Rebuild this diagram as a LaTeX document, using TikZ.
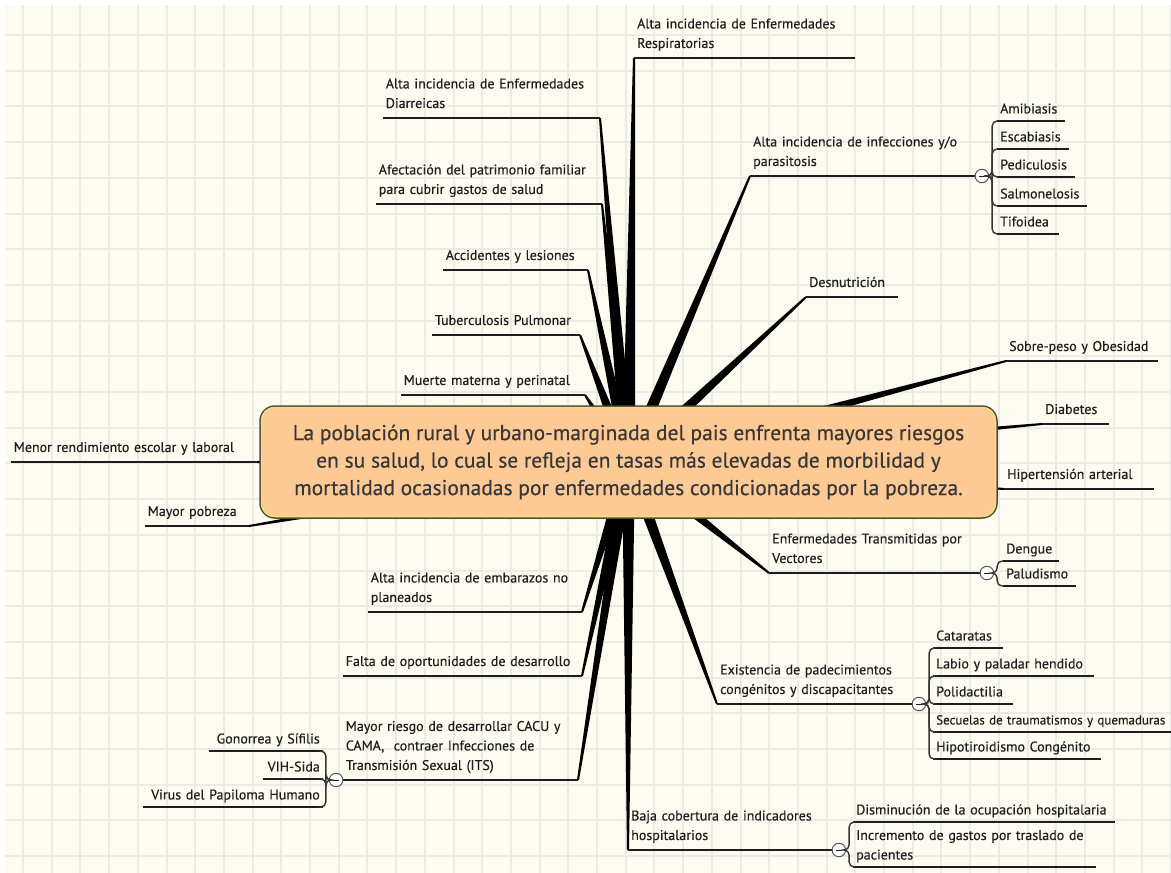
\documentclass[tikz,border=0pt]{standalone}
\usepackage{fontspec}
\setmainfont{PT Sans}
\newfontfamily\lblfont{PT Sans}[FakeBold=0.35]
\newfontfamily\corefont{PT Sans}[FakeBold=0.45]
\usetikzlibrary{calc}
\definecolor{paper}{HTML}{FDFBF0}
\definecolor{gridc}{HTML}{EBEBE6}
\definecolor{peach}{HTML}{FDCA96}
\definecolor{ink}{HTML}{1E1E1E}
\definecolor{boxline}{HTML}{4A4A3A}
\definecolor{glow}{HTML}{F0E26A}
\definecolor{coretext}{HTML}{383838}
\pgfdeclarelayer{paperl}
\pgfdeclarelayer{spk}
\pgfsetlayers{paperl,spk,main}
\newcommand{\spoke}[2]{\fill[black] ($(#1)!6.5pt!90:(#2)$) -- ($(#2)!1pt!-90:(#1)$) -- ($(#2)!1pt!90:(#1)$) -- ($(#1)!6.5pt!-90:(#2)$) -- cycle;}
\begin{document}
\begin{tikzpicture}[x=1pt,y=-1pt,
  lbl/.style={font=\lblfont\fontsize{14}{19.5}\selectfont, text=ink, inner xsep=3pt, inner ysep=4pt, align=left, execute at end node=\strut},
  R/.style={lbl, anchor=south west},
  L/.style={lbl, anchor=south east},
  subR/.style={R, inner ysep=1.5pt},
  subL/.style={L, inner ysep=1.5pt, align=right},
  uline/.style={draw=ink, line width=1.6pt},
  brk/.style={draw=ink!90, line width=1.4pt, rounded corners=5pt},
  tog/.style={circle, draw=ink!75, fill=white, line width=1pt, minimum size=13.5pt, inner sep=0pt,
    path picture={\draw[ink, line width=1pt] ([xshift=-3pt]path picture bounding box.center) -- ([xshift=3pt]path picture bounding box.center);}},
  core/.style={rounded corners=15pt, fill=peach, draw=boxline, line width=1.5pt, minimum width=737pt, minimum height=112pt, align=center, font=\corefont\fontsize{21.5}{27.5}\selectfont, text=coretext}
]
\useasboundingbox (0,0) rectangle (1171,873);
\begin{pgfonlayer}{paperl}
\fill[white] (0,0) rectangle (1171,873);
\fill[paper] (5,5) rectangle (1171,873);
\foreach \i in {0,...,40} \draw[gridc, line width=2pt] ({23+28.7*\i},5) -- ({23+28.7*\i},873);
\foreach \j in {0,...,23} \draw[gridc, line width=2pt] (5,{35+35.7*\j}) -- (1171,{35+35.7*\j});
\end{pgfonlayer}

% central topic
\node[core] (core) at (628.5,462) {La población rural y urbano-marginada del pais enfrenta mayores riesgos\\en su salud, lo cual se refleja en tasas más elevadas de morbilidad y\\mortalidad ocasionadas por enfermedades condicionadas por la pobreza.};
\draw[glow, line width=1.2pt, rounded corners=13pt] ([xshift=2.2pt,yshift=-2.2pt]core.north west) rectangle ([xshift=-2.2pt,yshift=2.2pt]core.south east);

% main labels
\node[R, text width=215pt] (resp) at (634,58) {Alta incidencia de Enfermedades\\Respiratorias};
\node[L, text width=211pt] (diar) at (600,118) {Alta incidencia de Enfermedades\\Diarreicas};
\node[L, text width=220pt] (afect) at (602,204) {Afectación del patrimonio familiar\\para cubrir gastos de salud};
\node[L, text width=139pt] (accid) at (588,270) {Accidentes y lesiones};
\node[L, text width=142pt] (tuber) at (580,335) {Tuberculosis Pulmonar};
\node[L, text width=178pt] (muerte) at (585,395) {Muerte materna y perinatal};
\node[L, text width=240pt] (menor) at (257,462) {Menor rendimiento escolar y laboral};
\node[L, text width=98pt] (pobreza) at (249,526) {Mayor pobreza};
\node[L, text width=208pt] (embar) at (582,612) {Alta incidencia de embarazos no\\planeados};
\node[L, text width=233pt] (falta) at (582,676) {Falta de oportunidades de desarrollo};
\node[L, text width=229pt] (riesgo) at (578,780) {Mayor riesgo de desarrollar CACU y\\CAMA,\ \ contraer Infecciones de\\Transmisión Sexual (ITS)};
\node[R, text width=198pt] (baja) at (628,850) {Baja cobertura de indicadores\\hospitalarios};
\node[R, text width=219pt] (infec) at (750,176) {Alta incidencia de infecciones y/o\\parasitosis};
\node[R, text width=86pt] (desnut) at (806,297) {Desnutrición};
\node[R, text width=146pt] (sobre) at (1006,361) {Sobre-peso y Obesidad};
\node[R, text width=61pt] (diab) at (1042,424) {Diabetes};
\node[R, text width=144pt] (hiper) at (1004,489) {Hipertensión arterial};
\node[R, text width=205pt] (enft) at (769,573) {Enfermedades Transmitidas por\\Vectores};
\node[R, text width=189pt] (exist) at (717,704) {Existencia de padecimientos\\congénitos y discapacitantes};

% sub labels
\node[subR, text width=62pt] (amib) at (997,121) {Amibiasis};
\node[subR, text width=66pt] (escab) at (997,149) {Escabiasis};
\node[subR, text width=72pt] (pedic) at (997,177) {Pediculosis};
\node[subR, text width=84pt] (salmo) at (997,206) {Salmonelosis};
\node[subR, text width=56pt] (tifo) at (997,234) {Tifoidea};
\node[subR, text width=50pt] (dengue) at (1003,561) {Dengue};
\node[subR, text width=67pt] (palud) at (1003,586) {Paludismo};
\node[subR, text width=64pt] (catar) at (933,648) {Cataratas};
\node[subR, text width=155pt] (labio) at (933,676) {Labio y paladar hendido};
\node[subR, text width=74pt] (polid) at (933,704) {Polidactilia};
\node[subR, text width=234pt, font=\lblfont\fontsize{13}{19.5}\selectfont] (secue) at (933,732) {Secuelas de traumatismos y quemaduras};
\node[subR, text width=162pt] (hipot) at (933,759) {Hipotiroidismo Congénito};
\node[subR, text width=256pt] (dismin) at (853,822) {Disminución de la ocupación hospitalaria};
\node[subR, text width=237pt] (incre) at (853,867) {Incremento de gastos por traslado de\\pacientes};
\node[subL, text width=108pt] (gono) at (323,751) {Gonorrea y Sífilis};
\node[subL, text width=54pt] (vih) at (323,779) {VIH-Sida};
\node[subL, text width=174pt] (virus) at (323,807) {Virus del Papiloma Humano};

% underlines
\foreach \n in {resp,diar,afect,accid,tuber,muerte,menor,pobreza,embar,falta,riesgo,baja,infec,desnut,sobre,diab,hiper,enft,exist,
  amib,escab,pedic,salmo,tifo,dengue,palud,catar,labio,polid,secue,hipot,dismin,incre,gono,vih,virus}
  \draw[uline] (\n.south west) -- (\n.south east);

% spokes
\begin{pgfonlayer}{spk}
\spoke{core.center}{resp.south west}
\spoke{core.center}{diar.south east}
\spoke{core.center}{afect.south east}
\spoke{core.center}{accid.south east}
\spoke{core.center}{tuber.south east}
\spoke{core.center}{muerte.south east}
\spoke{core.center}{menor.south east}
\spoke{core.center}{pobreza.south east}
\spoke{core.center}{embar.south east}
\spoke{core.center}{falta.south east}
\spoke{core.center}{riesgo.south east}
\spoke{core.center}{baja.south west}
\spoke{core.center}{infec.south west}
\spoke{core.center}{desnut.south west}
\spoke{core.center}{sobre.south west}
\spoke{core.center}{diab.south west}
\spoke{core.center}{hiper.south west}
\spoke{core.center}{enft.south west}
\spoke{core.center}{exist.south west}
\end{pgfonlayer}

% toggles
\node[tog] (tinf) at ([xshift=6.5pt]infec.south east) {};
\node[tog] (tenf) at ([xshift=6.5pt]enft.south east) {};
\node[tog] (texi) at ([xshift=6.5pt]exist.south east) {};
\node[tog] (tbaj) at ([xshift=6.5pt]baja.south east) {};
\node[tog] (trie) at ([xshift=-6.5pt]riesgo.south west) {};

% brackets
\foreach \c in {amib,escab,pedic,salmo,tifo} \draw[brk] (tinf.east) -- ++(3,0) |- (\c.south west);
\foreach \c in {dengue,palud} \draw[brk] (tenf.east) -- ++(3,0) |- (\c.south west);
\foreach \c in {catar,labio,polid,secue,hipot} \draw[brk] (texi.east) -- ++(3,0) |- (\c.south west);
\foreach \c in {dismin,incre} \draw[brk] (tbaj.east) -- ++(3,0) |- (\c.south west);
\foreach \c in {gono,vih,virus} \draw[brk] (trie.west) -- ++(-3,0) |- (\c.south east);
\end{tikzpicture}
\end{document}
